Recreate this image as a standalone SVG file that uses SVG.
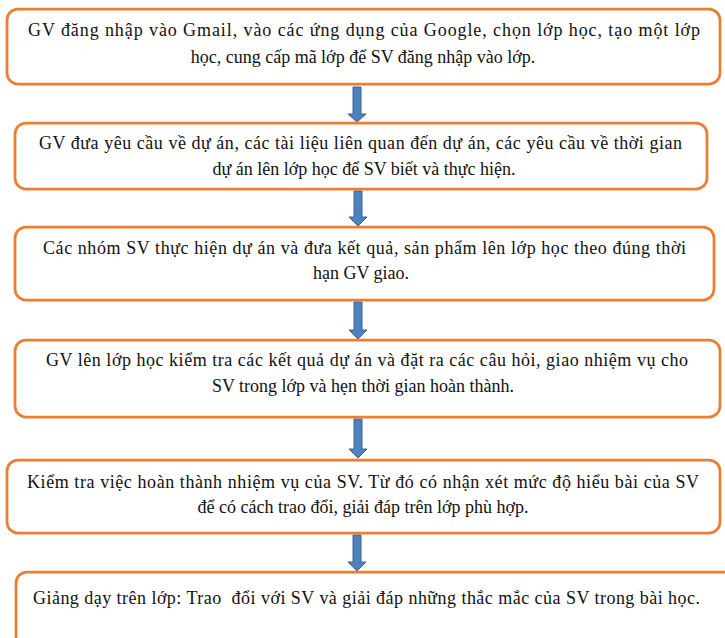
<svg xmlns="http://www.w3.org/2000/svg" width="725" height="638" viewBox="0 0 725 638">
<style>
.box{fill:#ffffff;stroke:#ED7D31;stroke-width:2.75}
.t{font-family:"Liberation Serif","Times New Roman",serif;font-size:18px;fill:#111111;white-space:pre}
.c{text-anchor:middle}
.arr{fill:#4F81BD;stroke:#3A6496;stroke-width:1}
</style>
<rect width="725" height="638" fill="#ffffff"/>
<g id="connectors">
<polygon class="arr" points="353,87 361,87 361,114 366,114 357,122 348,114 353,114"/>
<polygon class="arr" points="354,191 362,191 362,217 367,217 358,226 349,217 354,217"/>
<polygon class="arr" points="354,302 362,302 362,330 367,330 358,339 349,330 354,330"/>
<polygon class="arr" points="354,419 362,419 362,449 367,449 358,458 349,449 354,449"/>
<polygon class="arr" points="353,535 361,535 361,562 366,562 357,571 348,562 353,562"/>
</g>
<g id="node1">
<rect class="box" x="7" y="9" width="713" height="75" rx="11"/>
<text class="t" x="28" y="36" textLength="672" lengthAdjust="spacing">GV đăng nhập vào Gmail, vào các ứng dụng của Google, chọn lớp học, tạo một lớp</text>
<text class="t c" x="363" y="63">học, cung cấp mã lớp để SV đăng nhập vào lớp.</text>
</g>
<g id="node2">
<rect class="box" x="15" y="123" width="692" height="66" rx="11"/>
<text class="t" x="39" y="149" textLength="643" lengthAdjust="spacing">GV đưa yêu cầu về dự án, các tài liệu liên quan đến dự án, các yêu cầu về thời gian</text>
<text class="t c" x="364" y="175">dự án lên lớp học để SV biết và thực hiện.</text>
</g>
<g id="node3">
<rect class="box" x="15" y="227" width="699" height="73" rx="11"/>
<text class="t" x="43" y="254" textLength="643" lengthAdjust="spacing">Các nhóm SV thực hiện dự án và đưa kết quả, sản phẩm lên lớp học theo đúng thời</text>
<text class="t c" x="361" y="279">hạn GV giao.</text>
</g>
<g id="node4">
<rect class="box" x="15" y="340" width="705" height="77" rx="11"/>
<text class="t" x="46" y="366" textLength="642" lengthAdjust="spacing">GV lên lớp học kiểm tra các kết quả dự án và đặt ra các câu hỏi, giao nhiệm vụ cho</text>
<text class="t c" x="363" y="392">SV trong lớp và hẹn thời gian hoàn thành.</text>
</g>
<g id="node5">
<rect class="box" x="7" y="460" width="713" height="73" rx="11"/>
<text class="t" x="27" y="488" textLength="672" lengthAdjust="spacing">Kiểm tra việc hoàn thành nhiệm vụ của SV. Từ đó có nhận xét mức độ hiểu bài của SV</text>
<text class="t c" x="363" y="513">để có cách trao đổi, giải đáp trên lớp phù hợp.</text>
</g>
<g id="node6">
<rect class="box" x="16" y="572" width="730" height="100" rx="11"/>
<text class="t" x="33" y="604" textLength="667" lengthAdjust="spacing">Giảng dạy trên lớp: Trao  đổi với SV và giải đáp những thắc mắc của SV trong bài học.</text>
</g>
</svg>
